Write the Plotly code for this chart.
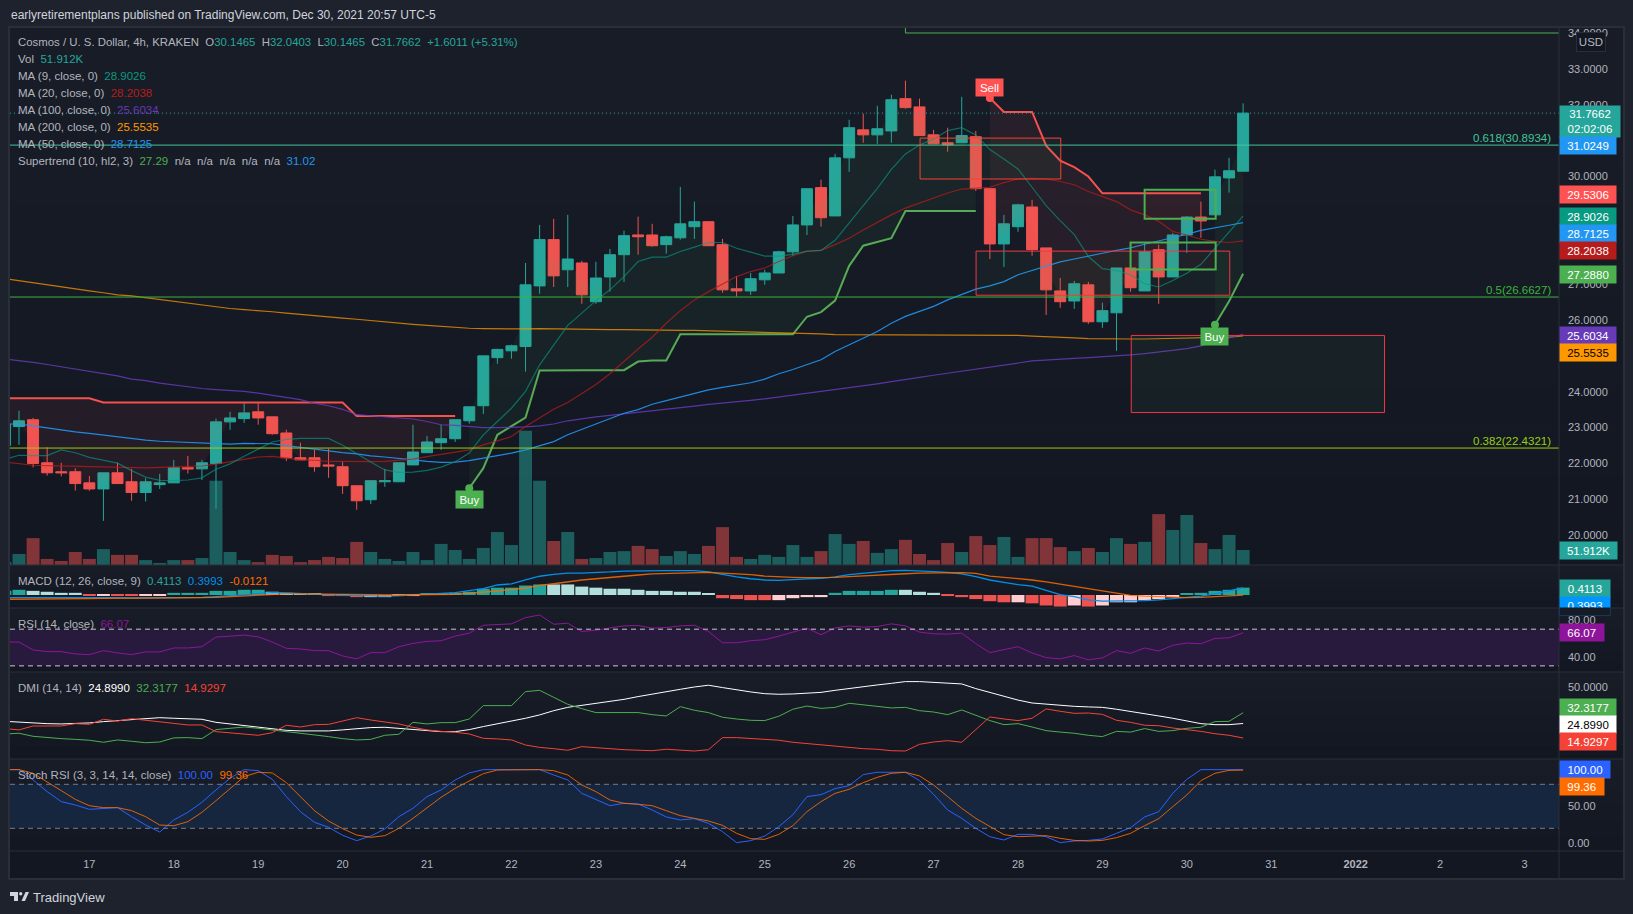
import pandas as pd
import plotly.graph_objects as go

W, H = 1633, 914

# bar data, 4h candles starting Dec 16 03:00 (UTC-5); the first bar is cut off by the left edge
opens = [22.5,23.03,23.22,22.02,21.77,21.77,21.46,21.29,21.74,21.49,21.19,21.41,21.46,21.88,21.85,22.00,23.16,23.25,23.44,23.30,22.85,22.16,22.16,21.96,21.91,21.38,20.99,21.49,21.49,21.96,22.30,22.58,22.69,23.19,23.61,24.95,25.14,25.26,26.95,28.24,27.40,27.59,26.51,27.20,27.82,28.37,28.37,28.10,28.29,28.60,28.74,28.10,26.87,26.81,27.12,27.31,27.90,28.65,29.69,28.90,30.52,31.30,31.16,31.27,32.17,31.94,31.16,30.94,30.94,31.11,29.66,28.12,28.60,29.15,28.01,26.81,26.53,26.98,25.95,26.20,27.45,26.81,27.96,27.20,28.37,28.87,28.93,29.96,30.1465]
highs = [23.2,23.47,23.27,22.45,22.02,21.87,21.65,21.74,22.02,21.85,21.59,21.71,22.10,22.21,22.10,23.25,23.44,23.68,23.68,23.30,22.94,22.58,22.38,22.41,22.05,21.38,21.52,21.85,22.02,23.08,22.77,23.08,23.22,23.58,25.00,25.20,25.31,27.59,28.65,28.82,28.93,27.65,27.62,27.98,28.49,28.88,28.68,28.35,29.71,29.30,28.76,28.26,27.23,27.31,27.40,27.93,28.90,29.66,29.91,30.63,31.58,31.75,31.97,32.28,32.67,32.17,31.30,31.36,32.22,31.27,29.66,28.93,29.24,29.35,28.01,27.17,27.09,27.06,26.48,27.45,27.45,28.15,28.10,28.43,28.90,29.30,30.19,30.52,32.0403]
lows = [22.4,22.52,21.89,21.66,21.64,21.24,21.24,20.40,21.44,20.96,20.94,21.29,21.46,21.72,21.54,20.74,22.94,23.13,23.08,22.80,22.07,22.10,21.77,21.60,21.15,20.71,20.87,21.35,21.49,21.96,22.30,22.38,22.60,23.11,23.38,24.78,24.92,24.56,26.73,26.92,26.92,26.45,26.45,26.79,27.06,27.82,28.04,27.85,28.24,28.26,28.07,26.76,26.65,26.70,26.98,27.31,27.79,28.37,28.60,28.90,30.13,30.94,30.91,30.94,31.89,31.14,30.91,30.69,30.94,29.60,27.70,27.48,28.46,27.79,26.14,26.34,26.31,25.89,25.78,25.14,26.79,26.81,26.45,27.20,27.87,28.29,28.93,29.55,30.1465]
closes = [23.1,23.19,22.00,21.74,21.74,21.44,21.29,21.74,21.44,21.19,21.49,21.46,21.88,21.85,22.02,23.16,23.27,23.41,23.27,22.83,22.16,22.10,21.91,21.93,21.38,20.96,21.52,21.52,22.02,22.32,22.60,22.69,23.22,23.58,25.00,25.18,25.28,26.98,28.24,27.23,27.70,26.70,27.17,27.82,28.35,28.32,28.07,28.32,28.68,28.74,28.07,26.84,26.81,27.15,27.31,27.90,28.65,29.66,28.85,30.52,31.36,31.16,31.33,32.14,31.92,31.14,30.91,30.88,31.14,29.66,28.12,28.68,29.21,27.96,26.84,26.51,27.01,25.95,26.26,27.45,26.90,27.90,27.20,28.37,28.87,28.76,29.99,30.16,31.7662]
volume_k = [10,38,93,21,14,45,21,55,35,35,17,7,17,17,24,291,45,17,10,35,31,10,17,28,24,80,45,21,14,45,17,73,52,21,59,114,69,464,291,83,114,21,24,45,48,66,55,31,48,38,66,131,28,21,35,28,69,28,48,107,73,83,42,55,87,38,17,76,45,100,69,97,28,93,93,62,48,59,45,93,73,80,176,121,173,76,55,104,51.912]

# moving averages
ma9 = [22.11,22.23,22.22,22.22,22.38,22.3,22.17,22.1,22.01,21.8,21.62,21.53,21.52,21.54,21.6,21.84,21.99,22.2,22.4,22.6,22.67,22.7,22.7,22.7,22.51,22.27,22.04,21.82,21.75,21.76,21.81,21.9,22.05,22.29,22.8,23.17,23.54,24.01,24.75,25.3,25.85,26.19,26.54,26.84,27.21,27.63,27.75,27.75,27.91,28.03,28.16,28.16,28,27.89,27.78,27.78,27.83,27.92,27.94,28.22,28.7,29.16,29.67,30.2,30.63,30.88,31.04,31.28,31.36,31.16,30.75,30.49,30.21,29.7,29.19,28.77,28.38,27.77,27.43,27.38,27.26,27.01,26.92,27.1,27.3,27.55,28,28.47,28.9026]
ma20 = [22.04,22,21.95,21.94,21.93,21.92,21.9,21.9,21.89,21.88,21.88,21.89,21.9,21.9,21.93,21.98,22.05,22.13,22.18,22.2,22.14,22.1,22.09,22.06,22.06,22.05,22.05,22.06,22.08,22.12,22.19,22.25,22.31,22.38,22.52,22.63,22.75,23.03,23.26,23.51,23.7,23.95,24.2,24.5,24.85,25.19,25.52,25.91,26.26,26.56,26.79,27,27.21,27.35,27.45,27.63,27.79,27.91,27.94,28.1,28.28,28.51,28.73,28.93,29.12,29.26,29.42,29.54,29.65,29.68,29.7,29.83,29.93,29.95,29.93,29.86,29.77,29.58,29.44,29.3,29.07,28.93,28.75,28.47,28.37,28.25,28.19,28.16,28.2038]
ma50 = [23.1,23.1,23.05,22.99,22.94,22.88,22.84,22.79,22.74,22.7,22.65,22.62,22.6,22.58,22.56,22.55,22.54,22.56,22.56,22.55,22.5,22.45,22.4,22.34,22.3,22.27,22.21,22.18,22.15,22.1,22.06,22.03,22.04,22.08,22.15,22.21,22.29,22.38,22.49,22.61,22.8,22.95,23.1,23.25,23.4,23.5,23.65,23.75,23.85,23.95,24.05,24.12,24.18,24.25,24.35,24.5,24.62,24.75,24.89,25.12,25.31,25.49,25.68,25.91,26.1,26.24,26.38,26.56,26.72,26.86,26.95,27.07,27.26,27.38,27.49,27.62,27.7,27.79,27.86,27.94,28.01,28.11,28.2,28.3,28.39,28.5,28.58,28.64,28.7125]
ma100 = [24.91,24.87,24.82,24.76,24.7,24.63,24.57,24.52,24.44,24.35,24.31,24.24,24.19,24.13,24.09,24.06,24.04,24.01,23.96,23.9,23.85,23.78,23.68,23.61,23.51,23.36,23.33,23.3,23.27,23.24,23.17,23.08,23.06,23.02,23,23,23,23.02,23.05,23.1,23.19,23.25,23.3,23.34,23.38,23.42,23.46,23.5,23.55,23.6,23.65,23.68,23.72,23.76,23.8,23.85,23.9,23.95,24,24.05,24.1,24.16,24.22,24.28,24.35,24.4,24.46,24.52,24.58,24.64,24.7,24.76,24.8,24.86,24.89,24.91,24.93,24.95,24.97,25,25.03,25.06,25.1,25.14,25.2,25.28,25.38,25.5,25.6034]
ma200 = [27.15,27.09,27.04,26.98,26.93,26.87,26.81,26.76,26.7,26.67,26.62,26.57,26.53,26.47,26.41,26.36,26.32,26.29,26.27,26.23,26.19,26.15,26.12,26.08,26.05,26.02,25.98,25.94,25.9,25.88,25.85,25.82,25.79,25.77,25.76,25.75,25.75,25.75,25.76,25.75,25.74,25.74,25.74,25.73,25.73,25.72,25.72,25.72,25.71,25.71,25.7,25.69,25.67,25.66,25.65,25.64,25.63,25.62,25.61,25.59,25.59,25.58,25.58,25.58,25.58,25.58,25.59,25.59,25.59,25.59,25.59,25.58,25.57,25.55,25.54,25.52,25.5,25.48,25.47,25.47,25.47,25.47,25.48,25.48,25.49,25.5,25.5,25.52,25.5535]

# supertrend segments: first bar index in the arrays above, values
st_red_1 = (0, [23.82,23.82,23.82,23.82,23.82,23.82,23.82,23.7,23.7,23.7,23.7,23.7,23.7,23.7,23.7,23.7,23.7,23.7,23.7,23.7,23.7,23.7,23.7,23.7,23.7,23.32,23.32,23.32,23.32,23.32,23.32,23.32,23.32])
st_green_1 = (33, [21.31,21.87,22.8,23.03,23.28,24.59,24.6,24.6,24.6,24.6,24.6,24.6,24.84,24.87,24.87,25.6,25.6,25.6,25.6,25.6,25.6,25.6,25.6,25.6,26.09,26.22,26.54,27.51,28.07,28.17,28.28,29.04,29.04,29.04,29.04,29.04,29.04])
st_red_2 = (70, [32.19,31.8,31.8,31.8,30.86,30.44,30.26,30,29.53,29.53,29.53,29.53,29.53,29.53,29.53,29.53])
st_green_2 = (86, [25.87,26.52,27.288])

# MACD
macd_hist = [.23,.29,.23,.18,.12,.12,-.03,-.03,-.03,-.03,-.03,-.03,.12,.12,.12,.23,.23,.29,.29,.18,.12,.06,.06,-.06,-.06,-.12,-.12,-.12,-.06,-.06,.06,.06,.12,.18,.35,.41,.41,.53,.59,.59,.59,.47,.41,.35,.35,.29,.23,.23,.18,.18,.06,-.18,-.23,-.29,-.29,-.29,-.18,-.12,-.12,.12,.23,.23,.23,.29,.29,.18,.12,-.06,-.12,-.23,-.35,-.41,-.41,-.47,-.59,-.65,-.59,-.65,-.59,-.41,-.41,-.29,-.23,-.12,.06,.12,.23,.29,.4113]
macd_state = "TTPPPPRLRRLLTTTTTTTPPPPRRRLLLLTTTTTTTTTPPPPPPPPPPPPRRRRLLLLTTTTTPPPRRRRRLRRRLRLLLLLLTTTTT"
macd_line = [-.15,-.15,-.13,-.11,-.11,-.13,-.15,-.15,-.15,-.17,-.17,-.17,-.15,-.15,-.13,-.09,-.04,.02,.09,.13,.11,.07,.04,0,-.02,-.04,-.06,-.06,-.04,0,.04,.07,.13,.24,.35,.56,.62,.84,1.05,1.16,1.23,1.23,1.25,1.29,1.34,1.36,1.36,1.36,1.36,1.36,1.29,1.14,1.01,.91,.84,.82,.84,.90,.93,1.01,1.14,1.21,1.27,1.36,1.38,1.36,1.31,1.27,1.18,1.03,.84,.71,.58,.50,.28,.02,-.09,-.28,-.35,-.35,-.35,-.32,-.28,-.21,-.13,-.06,.06,.24,.3993]
macd_signal = [-.24,-.24,-.22,-.21,-.21,-.21,-.21,-.19,-.19,-.19,-.19,-.19,-.19,-.17,-.15,-.13,-.09,-.06,0,.04,.06,.06,.06,.06,.04,.04,.02,0,0,0,0,.02,.04,.09,.15,.24,.30,.39,.54,.63,.75,.84,.91,.99,1.06,1.12,1.18,1.21,1.23,1.27,1.27,1.23,1.19,1.14,1.06,1.01,.99,.97,.97,.99,1.03,1.06,1.12,1.16,1.19,1.23,1.25,1.25,1.25,1.21,1.06,.99,.93,.84,.73,.60,.49,.35,.22,.07,-.02,-.07,-.11,-.13,-.15,-.13,-.09,-.04,-.0121]

# RSI
rsi = [56,56,47.3,45.5,45.5,43,42.3,46.6,44.1,42.3,45.2,45.2,49.5,49.5,50.9,61.4,62.4,63.5,61.7,56,49.1,48.4,46.6,46.6,40.8,37.6,44.4,44.4,50.9,54.5,56.7,57.4,62.4,65.7,74.3,75,75.8,82.6,85.5,75.4,76.5,67.5,68.9,71.4,73.6,74,71.1,71.8,73.6,74.3,67.5,55.2,55.2,57.4,58.5,62.4,66.4,71.1,63.9,71.4,73.6,72.2,72.9,75.8,73.6,66.8,65,64.6,65.7,54.2,44.4,47.7,50.9,44.1,39,37.6,41.2,36.5,38.7,46.6,43.7,49.5,46.2,52.4,54.9,54.2,59.9,60.6,66.07]

# DMI
adx = [26.4,25.7,25,24.8,24.6,24.8,25.3,26.2,26.9,27.8,28.5,28.9,28.5,28,27.8,25.7,24.6,23.4,22.5,21.4,20.2,19.8,19.8,19.8,20.5,21.4,22.1,22.3,21.6,20.7,19.8,19.3,19.3,20.7,22.8,24.6,26.4,28.5,30.8,33.7,36,37.4,38.8,39.9,41.5,43.4,45.2,46.8,48.4,50,51.2,49.6,48,46.6,45.4,45,45.2,45.7,46.3,47.7,49.1,50.2,51.4,52.5,53.7,53.7,53.2,52.5,52.1,48.9,46.3,43.8,41,39,38.1,37.4,36.7,36.3,36,34.7,33.3,31.5,30.1,28.5,26.4,24.8,24.1,24.1,24.899]
di_plus = [17.7,18.2,16.1,15.2,14.5,14,13.4,12,13.6,12.7,11.7,12.2,15,15.2,14.5,20.7,21.4,22.5,21.6,20.5,19.5,18.4,17.3,15.9,14.5,13.6,14,16.8,17.5,25.7,24.6,25.5,25.5,28,37.2,37.2,37.2,46.8,47.7,42.9,38.1,35.1,32.4,32.4,32.6,32.4,31,30.1,36.5,34,32.4,29.2,28,27.1,26.9,29.9,34.7,36.9,35.3,36,38.8,37.9,36.7,35.6,36,33.7,32.8,31,34.2,30.5,26.9,24.1,24.8,22.5,20,19,18.2,16.8,15.9,19.5,19,21.4,19.5,20,21.6,22.3,26.2,26.4,32.3177]
di_minus = [21.4,20.5,23.2,23.4,23.2,24.8,24.3,27.8,26.6,28.2,27.3,26.4,25,23.9,23.9,19.3,18.4,17.3,16.8,18.6,23.7,22.5,24.1,24.3,26.6,28.9,27.3,26,24.6,22.3,20.5,19.5,18.9,17.7,14.7,14.3,13.6,10.1,8.5,7.6,6.5,9,8.1,7.6,6.9,6.5,6.2,7.2,6.7,6,6.9,15.2,15.2,14.7,14.3,13.4,12,11.1,10.1,9,8.1,7.6,7.2,6.2,6,10.6,12.2,13.1,12,20.9,29.4,28,26.9,28.5,34.9,33.3,31.9,32.1,31.2,27.1,25.7,23.7,23.4,21.8,20.7,19.5,17.9,16.8,14.9297]

# Stoch RSI
stoch_k = [100,100,85.9,70,56.4,51.8,45.9,47.3,48.2,35.9,24.5,15,31.4,41.8,55.5,72.3,88.2,100,98.6,86.8,63.2,42.7,28.2,21.4,10.5,3.2,9.5,19.1,35.9,47.3,63.2,72.3,85.9,95.5,100,100,100,100,100,92.7,85.9,67.7,59.5,50.9,54.1,53.2,45,35.5,31.4,33.2,26.8,15.5,.5,3.2,9.5,22.3,38.6,63.2,65.9,74.1,78.2,93.2,96.4,96.4,96.4,85,66.4,45,33.6,20,8.6,4.1,11.8,11.8,8.6,.5,2.7,3.6,5.5,13.2,20.9,35.5,42.7,67.7,86.8,100,100,100,100]
stoch_d = [100,100,95,83.6,71.4,59.5,50.9,48.2,48.2,44.1,35.9,24.5,23.6,29.1,41.8,57.7,73.6,90.5,96.4,95.5,82.3,63.2,44.1,30,19.5,10.9,7.7,10,20,33.6,48.6,62.3,74.5,85,94.5,99.5,100,100,100,98.6,92.7,79.1,70,58.6,54.1,52.7,50.9,44.1,37.3,33.6,30,24.1,13.2,5.9,5,11.8,23.6,42.7,56.4,67.7,73.2,82.3,89.5,95,96.4,91.4,79.1,63.2,47.3,33.6,22.3,11.4,8.6,9.1,10,6.4,3.6,2.7,3.6,7.3,13.2,23.6,33.2,49.5,65.5,85,95,99,99.36]

tick_days = ["2021-12-%02d" % d for d in range(17, 32)] + ["2022-01-01", "2022-01-02", "2022-01-03"]
tick_text = [str(d) for d in range(17, 32)] + ["<b>2022</b>", "2", "3"]
price_ticks = [34, 33, 32, 30, 27, 26, 24, 23, 22, 21, 20]

# colours
BG = "#1e222d"
UP, DOWN = "#26a69a", "#ef5350"
BORDER = "#2a2e39"
TXT = "#b2b5be"
C_MA9, C_MA20, C_MA50, C_MA100, C_MA200 = "#089981", "#b71c1c", "#2196f3", "#673ab7", "#ff9800"
FONT = "Liberation Sans"

t0 = pd.Timestamp("2021-12-16 03:00")


def bar_time(i):
    return t0 + pd.Timedelta(hours=4 * i)


def px_x(x):
    return x / W


def px_y(y):
    return 1 - y / H


n = len(closes)
times = [bar_time(i) for i in range(n)]
mids = [(o + c) / 2 for o, c in zip(opens, closes)]

# pixel rows of the panes
PANES = {"main": (27, 565), "macd": (565, 608), "rsi": (608, 672), "dmi": (672, 759), "stoch": (759, 851)}
PRICE_RANGE = [19.17, 34.167]
FRAME_L, PLOT_R, FRAME_R = 10, 1559, 1623

fig = go.Figure()

# volume and histogram
fig.add_bar(x=times, y=volume_k, yaxis="y", xaxis="x",
            marker=dict(color=["rgba(38,166,154,0.5)" if c >= o else "rgba(239,83,80,0.5)" for o, c in zip(opens, closes)], line_width=0))
state_colors = {"T": UP, "P": "#b2dfdb", "L": "#ffcdd2", "R": DOWN}
fig.add_bar(x=times, y=macd_hist, yaxis="y3", xaxis="x",
            marker=dict(color=[state_colors[s] for s in macd_state], line_width=0))

fig.add_candlestick(x=times, open=opens, high=highs, low=lows, close=closes, yaxis="y2", xaxis="x",
                    increasing=dict(line=dict(color=UP, width=1), fillcolor=UP),
                    decreasing=dict(line=dict(color=DOWN, width=1), fillcolor=DOWN),
                    whiskerwidth=0)


# supertrend with its fill to the candle middle
def add_supertrend(segment, color, fill):
    start, vals = segment
    idx = list(range(start, start + len(vals)))
    xs = [bar_time(i) for i in idx]
    fig.add_scatter(x=xs, y=[mids[i] for i in idx], yaxis="y2", mode="lines", line=dict(width=0), hoverinfo="skip")
    fig.add_scatter(x=xs, y=vals, yaxis="y2", mode="lines", fill="tonexty", fillcolor=fill, line=dict(color=color, width=2))


add_supertrend(st_red_1, "#f5514f", "rgba(255,82,82,0.07)")
add_supertrend(st_green_1, "#58ab55", "rgba(76,175,80,0.07)")
add_supertrend(st_red_2, "#f5514f", "rgba(255,82,82,0.07)")
add_supertrend(st_green_2, "#58ab55", "rgba(76,175,80,0.07)")

for series, color, alpha in [(ma200, "255,152,0", 0.75), (ma100, "103,58,183", 0.85), (ma50, "33,150,243", 0.9), (ma20, "183,28,28", 0.75), (ma9, "8,153,129", 0.65)]:
    fig.add_scatter(x=times, y=series, yaxis="y2", mode="lines", line=dict(color="rgba(%s,%s)" % (color, alpha), width=1.2))

# buy / sell dots
for seg, color in [(st_green_1, "#4caf50"), (st_red_2, "#ff5252"), (st_green_2, "#4caf50")]:
    fig.add_scatter(x=[bar_time(seg[0])], y=[seg[1][0]], yaxis="y2", mode="markers", marker=dict(color=color, size=8))

# indicator panes
fig.add_scatter(x=times, y=macd_line, yaxis="y3", mode="lines", line=dict(color="#0091ea", width=1.3))
fig.add_scatter(x=times, y=macd_signal, yaxis="y3", mode="lines", line=dict(color="rgba(255,109,0,0.85)", width=1.3))
fig.add_scatter(x=times, y=rsi, yaxis="y4", mode="lines", line=dict(color="#8e1599", width=1))
fig.add_scatter(x=times, y=adx, yaxis="y5", mode="lines", line=dict(color="#ffffff", width=1))
fig.add_scatter(x=times, y=di_plus, yaxis="y5", mode="lines", line=dict(color="#4caf50", width=1))
fig.add_scatter(x=times, y=di_minus, yaxis="y5", mode="lines", line=dict(color="#f44336", width=1))
fig.add_scatter(x=times, y=stoch_k, yaxis="y6", mode="lines", line=dict(color="#2962ff", width=1))
fig.add_scatter(x=times, y=stoch_d, yaxis="y6", mode="lines", line=dict(color="rgba(255,109,0,0.85)", width=1))

shapes = []


def lerp_color(a, b, f):
    return "rgb(%d,%d,%d)" % tuple(round(a[k] + (b[k] - a[k]) * f) for k in range(3))


# pane backgrounds, each fades slightly towards the bottom
for top, bot in PANES.values():
    steps = 12
    for k in range(steps):
        y0 = top + (bot - top) * k / steps
        y1 = top + (bot - top) * (k + 1) / steps
        shapes.append(dict(type="rect", xref="paper", yref="paper", x0=px_x(FRAME_L), x1=px_x(FRAME_R), y0=px_y(y0), y1=px_y(y1),
                           fillcolor=lerp_color((24, 28, 39), (19, 23, 34), k / (steps - 1)), line_width=0, layer="below"))
shapes.append(dict(type="rect", xref="paper", yref="paper", x0=px_x(FRAME_L), x1=px_x(FRAME_R), y0=px_y(851), y1=px_y(879),
                   fillcolor="#131722", line_width=0, layer="below"))


def hline(y, yref, color, width=1, dash="solid"):
    return dict(type="line", xref="x domain", yref=yref, x0=0, x1=1, y0=y, y1=y, line=dict(color=color, width=width, dash=dash))


shapes.append(hline(30.875, "y2", "#41c79a"))
shapes.append(hline(26.64, "y2", "#3ab53a"))
shapes.append(hline(22.43, "y2", "#9acd13"))
shapes.append(hline(31.7662, "y2", UP, 1, "1px,3px"))
shapes.append(dict(type="rect", xref="x domain", yref="y4", x0=0, x1=1, y0=30, y1=70, fillcolor="#281a3d", line_width=0, layer="below"))
shapes.append(hline(70, "y4", "#c8c9ce", 1, "5px,4px"))
shapes.append(hline(30, "y4", "#c8c9ce", 1, "5px,4px"))
shapes.append(dict(type="rect", xref="x domain", yref="y6", x0=0, x1=1, y0=20, y1=80, fillcolor="#17263f", line_width=0, layer="below"))
shapes.append(hline(80, "y6", "#787b86", 1, "5px,4px"))
shapes.append(hline(20, "y6", "#787b86", 1, "5px,4px"))


def box(i0, i1, p_top, p_bot, line_color, fill, width=1):
    shapes.append(dict(type="rect", xref="x", yref="y2", x0=bar_time(i0), x1=bar_time(i1), y0=p_bot, y1=p_top,
                       line=dict(color=line_color, width=width), fillcolor=fill))


# boxes are placed on the bar grid (fractional bars)
box(65.04, 75.04, 31.07, 29.93, "#f44336", "rgba(76,175,80,0.06)")
box(69.02, 87.05, 27.92, 26.69, "#f23645", "rgba(76,175,80,0.05)")
box(81.0, 86.05, 29.63, 28.82, "#4caf50", "rgba(255,82,82,0.04)", 2)
box(80.0, 86.05, 28.16, 27.41, "#4caf50", "rgba(255,82,82,0.04)", 2)
box(80.05, 98.05, 25.57, 23.42, "#f23645", "rgba(76,175,80,0.06)")

# line running off the top of the chart
shapes.append(dict(type="line", xref="x", yref="y2", x0=bar_time(64.0), x1=bar_time(111), y0=34.0, y1=34.0, line=dict(color="#4caf50", width=1)))
shapes.append(dict(type="line", xref="x", yref="y2", x0=bar_time(64.0), x1=bar_time(64.0), y0=34.0, y1=34.167, line=dict(color="#4caf50", width=1)))

# pane separators and frame
for y in (565, 608, 672, 759, 851):
    shapes.append(dict(type="line", xref="paper", yref="paper", x0=px_x(FRAME_L), x1=px_x(FRAME_R), y0=px_y(y), y1=px_y(y), line=dict(color=BORDER, width=1)))
shapes.append(dict(type="line", xref="paper", yref="paper", x0=px_x(PLOT_R), x1=px_x(PLOT_R), y0=px_y(27), y1=px_y(879), line=dict(color=BORDER, width=1)))
shapes.append(dict(type="rect", xref="paper", yref="paper", x0=px_x(FRAME_L - 1), x1=px_x(FRAME_R + 1), y0=px_y(879), y1=px_y(27), line=dict(color=BORDER, width=2)))

# TradingView logo
lx = px_x
ly = px_y
logo = "M %f %f L %f %f L %f %f L %f %f L %f %f L %f %f Z" % (lx(10), ly(892), lx(18), ly(892), lx(18), ly(901), lx(14), ly(901), lx(14), ly(896), lx(10), ly(896))
logo2 = "M %f %f L %f %f L %f %f L %f %f Z" % (lx(25.5), ly(892), lx(29), ly(892), lx(25), ly(901), lx(21.5), ly(901))
for p in (logo, logo2):
    shapes.append(dict(type="path", xref="paper", yref="paper", path=p, fillcolor="#d1d4dc", line_width=0))
shapes.append(dict(type="circle", xref="paper", yref="paper", x0=lx(19), x1=lx(22.4), y0=ly(892), y1=ly(895.4), fillcolor="#d1d4dc", line_width=0))

annotations = []


def label(text, x, y, color=TXT, size=11.5, anchor="left"):
    annotations.append(dict(text=text, x=px_x(x), y=px_y(y), xref="paper", yref="paper", xanchor=anchor, yanchor="middle",
                            showarrow=False, font=dict(family=FONT, size=size, color=color)))


def val(text, color):
    return '<span style="color:%s">%s</span>' % (color, text)


def badge(text, yc, height, width, bg, color="#ffffff"):
    annotations.append(dict(text=text, x=px_x(PLOT_R), y=px_y(yc), xref="paper", yref="paper", xanchor="left", yanchor="middle",
                            width=width, height=height, bgcolor=bg, borderpad=0, align="center", showarrow=False,
                            font=dict(family=FONT, size=11.5, color=color)))


label("earlyretirementplans published on TradingView.com, Dec 30, 2021 20:57 UTC-5", 9, 15, "#d1d4dc", 12)
sp = "&nbsp;&nbsp;"
label("Cosmos / U. S. Dollar, 4h, KRAKEN" + sp + "O" + val("30.1465", UP) + sp + "H" + val("32.0403", UP) + sp + "L" + val("30.1465", UP)
      + sp + "C" + val("31.7662", UP) + sp + val("+1.6011 (+5.31%)", UP), 16, 42, size=11.4)
label("Vol" + sp + val("51.912K", UP), 16, 59)
label("MA (9, close, 0)" + sp + val("28.9026", C_MA9), 16, 76)
label("MA (20, close, 0)" + sp + val("28.2038", C_MA20), 16, 93)
label("MA (100, close, 0)" + sp + val("25.6034", C_MA100), 16, 110)
label("MA (200, close, 0)" + sp + val("25.5535", C_MA200), 16, 127)
label("MA (50, close, 0)" + sp + val("28.7125", C_MA50), 16, 144)
label("Supertrend (10, hl2, 3)" + sp + val("27.29", "#4caf50") + sp + "n/a" + sp + "n/a" + sp + "n/a" + sp + "n/a" + sp + "n/a" + sp + val("31.02", C_MA50), 16, 161)
label("MACD (12, 26, close, 9)" + sp + val("0.4113", UP) + sp + val("0.3993", "#0091ea") + sp + val("-0.0121", "#ff6d00"), 16, 581)
label("RSI (14, close)" + sp + val("66.07", "#8e1599"), 16, 624)
label("DMI (14, 14)" + sp + val("24.8990", "#ffffff") + sp + val("32.3177", "#4caf50") + sp + val("14.9297", "#f44336"), 16, 688)
label("Stoch RSI (3, 3, 14, 14, close)" + sp + val("100.00", "#2962ff") + sp + val("99.36", "#ff6d00"), 16, 775)

label("0.618(30.8934)", 1553, 138, "#41c79a", anchor="right")
label("0.5(26.6627)", 1553, 290, "#3ab53a", anchor="right")
label("0.382(22.4321)", 1553, 441, "#9acd13", anchor="right")

label("TradingView", 31, 897, "#d1d4dc", 13)

badge("31.7662<br>02:02:06", 121.5, 31, 60, UP)
badge("31.0249", 145.5, 17, 56, "#2196f3")
badge("29.5306", 194.5, 17, 56, "#ff5252")
badge("28.9026", 216.5, 17, 56, "#089981")
badge("28.7125", 233.5, 17, 56, "#2196f3")
badge("28.2038", 250.5, 17, 56, "#b71c1c")
badge("27.2880", 274.5, 17, 56, "#4caf50")
badge("25.6034", 335.5, 17, 56, "#673ab7")
badge("25.5535", 352.5, 17, 56, "#ff9800", "#000000")
badge("51.912K", 550.5, 17, 57, UP)
badge("0.4113", 588.5, 17, 50, UP)
badge("0.3993", 606, 18, 50, "#0095ff")
badge(" ", 611.5, 7, 50, "#171b26")  # hides the part of the tag that runs into the RSI pane
badge("66.07", 632.5, 17, 43.5, "#8e1599")
badge("32.3177", 707.5, 17, 56, "#4caf50")
badge("24.8990", 724.5, 17, 56, "#ffffff", "#000000")
badge("14.9297", 741.5, 17, 56, "#f44336")
badge("100.00", 769.5, 17, 50, "#2962ff")
badge("99.36", 786.5, 17, 43.5, "#ff6d00")

annotations.append(dict(text="USD", x=px_x(1591), y=px_y(42.5), xref="paper", yref="paper", xanchor="center", yanchor="middle",
                        width=28, height=18, bgcolor="#131722", bordercolor=BORDER, borderwidth=1, borderpad=0, showarrow=False,
                        font=dict(family=FONT, size=11.5, color=TXT)))


def signal_tag(text, i, price, shift, bg):
    annotations.append(dict(text=text, x=bar_time(i), y=price, xref="x", yref="y2", yanchor="middle", xanchor="center", yshift=shift,
                            width=27, height=17, bgcolor=bg, borderpad=0, showarrow=False,
                            font=dict(family=FONT, size=11.5, color="#ffffff")))


signal_tag("Buy", st_green_1[0], st_green_1[1][0], -11, "#4caf50")
signal_tag("Sell", st_red_2[0], st_red_2[1][0], 10, "#ff5252")
signal_tag("Buy", st_green_2[0], st_green_2[1][0], -12, "#4caf50")


def dom(name):
    top, bot = PANES[name]
    return [px_y(bot), px_y(top)]


def value_axis(name, rng, vals=None, fmt=".2f"):
    ax = dict(domain=dom(name), range=rng, anchor="x", side="right", showgrid=False, zeroline=False, showline=False, fixedrange=True)
    if vals is None:
        ax["visible"] = False
    else:
        ax.update(tickmode="array", tickvals=vals, ticktext=[format(v, fmt) for v in vals], ticks="", ticklabelstandoff=8,
                  tickfont=dict(family=FONT, size=11, color=TXT))
    return ax


price_axis = value_axis("main", PRICE_RANGE, price_ticks, ".4f")
price_axis["overlaying"] = "y"
del price_axis["domain"]

fig.update_layout(
    width=W, height=H, margin=dict(l=0, r=0, t=0, b=0), autosize=False,
    paper_bgcolor=BG, plot_bgcolor="rgba(0,0,0,0)", showlegend=False, bargap=0.08, boxgap=0.22, boxgroupgap=0, barmode="overlay",
    xaxis=dict(domain=[px_x(FRAME_L), px_x(PLOT_R)], range=[bar_time(0.36), bar_time(110.45)], anchor="y6", type="date",
               tickmode="array", tickvals=[d + " 03:00" for d in tick_days], ticktext=tick_text, showgrid=False, zeroline=False,
               showline=False, ticks="", ticklabelstandoff=5, tickfont=dict(family=FONT, size=11, color=TXT),
               rangeslider=dict(visible=False)),
    yaxis=value_axis("main", [0, 1861]),
    yaxis2=price_axis,
    yaxis3=value_axis("macd", [-0.73, 1.68]),
    yaxis4=value_axis("rsi", [23.3, 93.1], [80, 40]),
    yaxis5=value_axis("dmi", [0.5, 60.3], [50], ".4f"),
    yaxis6=value_axis("stoch", [-10.9, 114.5], [50, 0]),
    shapes=shapes, annotations=annotations,
)

fig.write_html("out.html", config={"displayModeBar": False}, post_script="document.body.style.margin='0';document.body.style.overflow='hidden';")
